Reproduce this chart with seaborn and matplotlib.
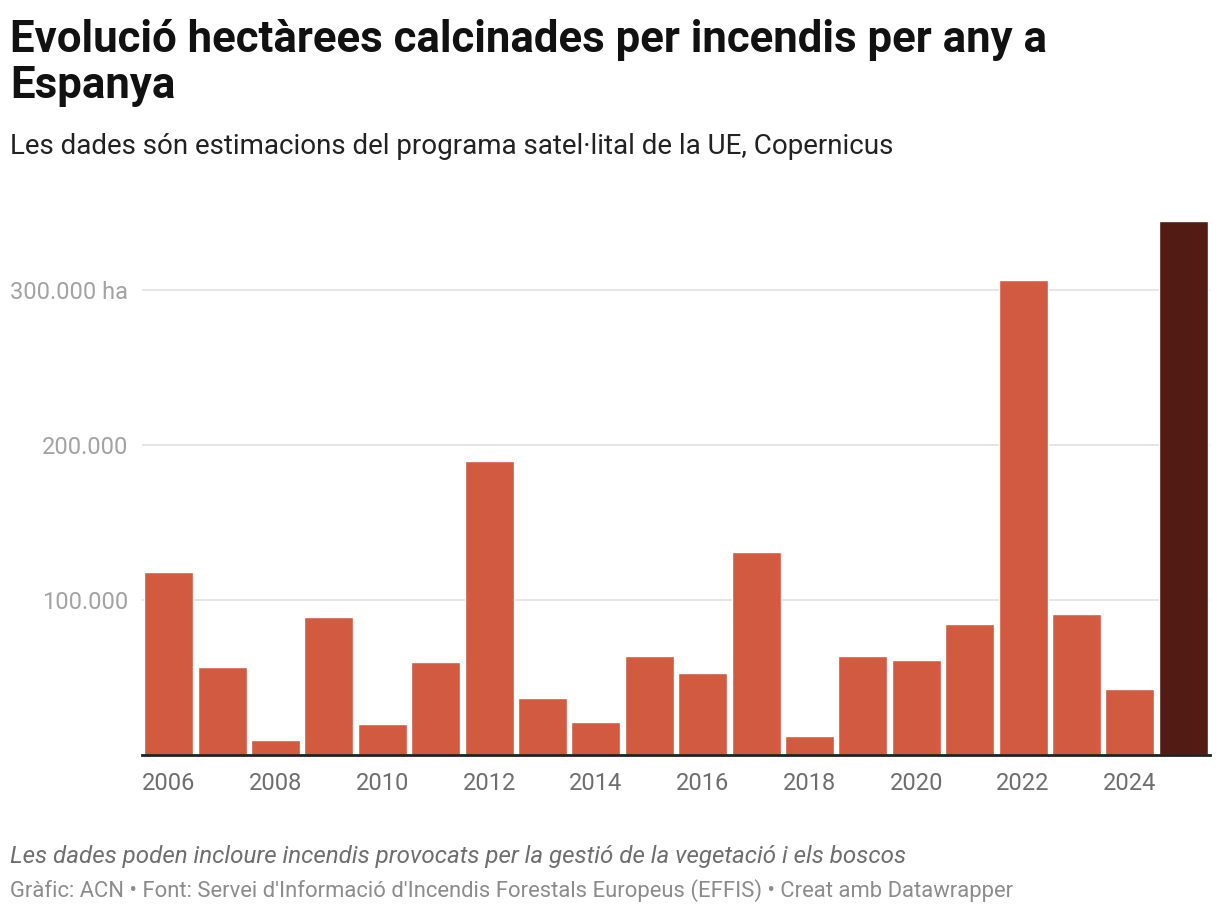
import matplotlib
matplotlib.use("Agg")
import matplotlib.pyplot as plt
import seaborn as sns
import pandas as pd

years = list(range(2006, 2026))
hectares = [118000, 56500, 10000, 89000, 19800, 60000, 189500, 36500, 21600, 63700,
            52700, 131000, 12000, 63700, 61000, 84500, 306500, 90800, 42300, 344500]
tick_years = [2006, 2008, 2010, 2012, 2014, 2016, 2018, 2020, 2022, 2024]
y_ticks = [100000, 200000, 300000]
y_labels = ["100.000", "200.000", "300.000 ha"]

df = pd.DataFrame({"year": years, "ha": hectares})
df["highlight"] = df["year"] == 2025

sns.set_theme(style="white")
plt.rcParams["font.family"] = ["Roboto", "DejaVu Sans"]

W, H = 1220, 918
fig = plt.figure(figsize=(12.2, 9.18), dpi=100)
ax = fig.add_axes([142 / W, (H - 755) / H, (1210 - 142) / W, 545 / H])

palette = {False: "#d15a40", True: "#521c14"}
sns.barplot(data=df, x="year", y="ha", hue="highlight", palette=palette,
            dodge=False, width=0.92, legend=False, ax=ax, saturation=1, zorder=2)

ax.set_xlim(-0.5, len(years) - 0.5)
ax.set_ylim(0, 545 / 155 * 100000)
ax.set_yticks(y_ticks)
ax.set_yticklabels(y_labels)
ax.yaxis.grid(True, color="#e3e3e3", linewidth=1.3, zorder=0)
ax.set_axisbelow(True)
ax.tick_params(axis="y", length=0, pad=10, labelsize=17, labelcolor="#a3a3a3")

ax.set_xticks([years.index(y) for y in tick_years])
ax.set_xticklabels([str(y) for y in tick_years])
ax.tick_params(axis="x", length=0, pad=12, labelsize=17, labelcolor="#6e6e6e")
ax.set_xlabel("")
ax.set_ylabel("")
for s in ["top", "right", "left"]:
    ax.spines[s].set_visible(False)
ax.spines["bottom"].set_color("#222222")
ax.spines["bottom"].set_linewidth(2)
ax.spines["bottom"].set_zorder(3)

def put(y_px, txt, **kw):
    fig.text(10 / W, 1 - y_px / H, txt, va="baseline", ha="left", **kw)

put(52, "Evolució hectàrees calcinades per incendis per any a",
    fontsize=31.5, fontweight="bold", color="#111111")
put(98, "Espanya", fontsize=31.5, fontweight="bold", color="#111111")
put(154, "Les dades són estimacions del programa satel·lital de la UE, Copernicus",
    fontsize=20, color="#222222")
put(863, "Les dades poden incloure incendis provocats per la gestió de la vegetació i els boscos",
    fontsize=17.4, style="italic", color="#6e6e6e")
put(897, "Gràfic: ACN • Font: Servei d'Informació d'Incendis Forestals Europeus (EFFIS) • Creat amb Datawrapper",
    fontsize=15.8, color="#8c8c8c")

fig.savefig("out.png", dpi=100)
